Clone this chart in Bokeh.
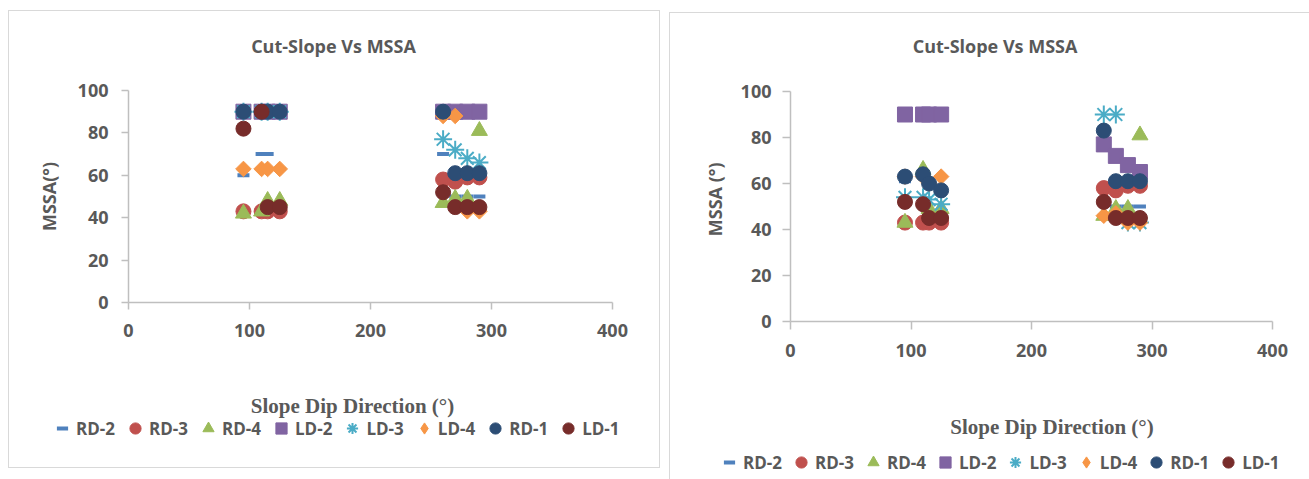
from math import pi
from bokeh.plotting import figure
from bokeh.layouts import row, column
from bokeh.models import Range1d, SingleIntervalTicker, Legend, LegendItem, ColumnDataSource, Label
from bokeh.embed import file_html
from bokeh.resources import INLINE

# ---------------- data ----------------
dip_direction = [95, 110, 115, 125, 260, 270, 280, 290]
series_names = ["RD-2", "RD-3", "RD-4", "LD-2", "LD-3", "LD-4", "RD-1", "LD-1"]

# left chart (MSSA, degrees)
left_rd2 = [60, 70, 70, 63, 70, 50, 50, 50]
left_rd3 = [43, 43, 43, 43, 58, 57, 59, 59]
left_rd4 = [42, 43, 48, 48, 47, 49, 49, 81]
left_ld2 = [90, 90, 90, 90, 90, 90, 90, 90]
left_ld3 = [90, 90, 90, 90, 77, 72, 68, 66]
left_ld4 = [63, 63, 63, 63, 88, 88, 43, 43]
left_rd1 = [90, 90, 90, 90, 90, 61, 61, 61]
left_ld1 = [82, 90, 45, 45, 52, 45, 45, 45]

# right chart (MSSA, degrees)
right_rd2 = [61, 64, 60, 57, 46, 50, 50, 50]
right_rd3 = [43, 43, 43, 43, 58, 57, 59, 59]
right_rd4 = [43, 66, 49, 49, 46, 49, 49, 81]
right_ld2 = [90, 90, 90, 90, 77, 72, 68, 65]
right_ld3 = [54, 54, 53, 51, 90, 90, 43, 43]
right_ld4 = [63, 63, 60, 63, 46, 47, 43, 43]
right_rd1 = [63, 64, 60, 57, 83, 61, 61, 61]
right_ld1 = [52, 51, 45, 45, 52, 45, 45, 45]

x_ticks_interval = 100
y_ticks_interval = 20
title_text = "Cut-Slope Vs MSSA"
x_label_text = "Slope Dip Direction (°)"
left_y_label = "MSSA(°)"
right_y_label = "MSSA (°)"

# ---------------- styles ----------------
styles = {
    "RD-2": dict(marker="dash", color="#4F81BD", size=12, angle=0, lw=4),
    "RD-3": dict(marker="circle", color="#C0504D", size=15, angle=0, lw=1),
    "RD-4": dict(marker="triangle", color="#9BBB59", size=16, angle=0, lw=1),
    "LD-2": dict(marker="square", color="#8064A2", size=15, angle=0, lw=1),
    "LD-3": dict(marker="asterisk", color="#4BACC6", size=18, angle=0, lw=2),
    "LD-4": dict(marker="square", color="#F79646", size=11, angle=pi / 4, lw=1, key_marker="diamond"),
    "RD-1": dict(marker="circle", color="#2C4D75", size=15, angle=0, lw=1),
    "LD-1": dict(marker="circle", color="#772C2A", size=15, angle=0, lw=1),
}

GRAY = "#595959"
AXIS = "#BFBFBF"
SANS = "Open Sans"
SERIF = "Liberation Serif"
LINE = "linear-gradient(#D9D9D9,#D9D9D9)"


def bg(*segments):
    return ", ".join([f"{LINE} {s} no-repeat" for s in segments] + ["#FFFFFF"])


def blank(width, height, background):
    p = figure(width=width, height=height, output_backend="svg", toolbar_location=None,
               x_range=Range1d(0, width), y_range=Range1d(0, height), title=None,
               x_axis_location=None, y_axis_location=None, min_border=0,
               styles={"background": background})
    p.outline_line_color = None
    p.grid.visible = False
    p.background_fill_color = None
    p.border_fill_color = None
    return p


def text(p, x, y, s, font, size, angle=0.0):
    p.add_layout(Label(x=x, y=y, text=s, text_font=font, text_font_style="bold",
                       text_font_size=size, text_color=GRAY, text_align="center",
                       text_baseline="middle", angle=angle))


def source(values):
    return ColumnDataSource(dict(x=dip_direction, **{n: v for n, v in zip(series_names, values)}))


def draw_series(p, src, key=False):
    rs = []
    for n in series_names:
        s = styles[n]
        marker = s.get("key_marker", s["marker"]) if key else s["marker"]
        angle = 0 if (key and "key_marker" in s) else s["angle"]
        rs.append(p.scatter("x", n, source=src, marker=marker, size=s["size"], angle=angle,
                            fill_color=s["color"], line_color=s["color"], line_width=s["lw"],
                            visible=not key))
    return rs


def main_fig(values, width, height, borders, background, tick_out, ylab_standoff, xlab_standoff):
    p = figure(width=width, height=height, output_backend="svg", toolbar_location=None,
               x_range=Range1d(0, 400), y_range=Range1d(0, 100), title=None,
               min_border_left=borders[0], min_border_right=borders[1],
               min_border_top=borders[2], min_border_bottom=borders[3],
               styles={"background": background})
    p.outline_line_color = None
    p.grid.visible = False
    p.background_fill_color = None
    p.border_fill_color = None
    p.xaxis.ticker = SingleIntervalTicker(interval=x_ticks_interval)
    p.yaxis.ticker = SingleIntervalTicker(interval=y_ticks_interval)
    for ax in (p.xaxis, p.yaxis):
        ax.axis_line_color = AXIS
        ax.axis_line_width = 1.5
        ax.major_tick_line_color = AXIS
        ax.major_tick_line_width = 1.5
        ax.major_tick_in = 0
        ax.major_tick_out = tick_out
        ax.minor_tick_line_color = None
        ax.major_label_text_font = SANS
        ax.major_label_text_font_style = "bold"
        ax.major_label_text_font_size = "18px"
        ax.major_label_text_color = GRAY
    p.yaxis.major_label_standoff = ylab_standoff
    p.xaxis.major_label_standoff = xlab_standoff
    draw_series(p, source(values))
    return p


def add_legend(p, values, loc, spacing):
    # legend keys: same series, hidden in this strip (only their legend glyphs show)
    keys = draw_series(p, source(values), key=True)
    items = [LegendItem(label=n, renderers=[r]) for n, r in zip(series_names, keys)]
    p.add_layout(Legend(items=items, orientation="horizontal", location=loc,
                        glyph_width=28, glyph_height=28, label_standoff=0, spacing=spacing,
                        padding=0, margin=0, border_line_alpha=0, background_fill_alpha=0,
                        inactive_fill_alpha=0,
                        label_text_font=SANS, label_text_font_style="bold",
                        label_text_font_size="17px", label_text_color=GRAY))


left_values = [left_rd2, left_rd3, left_rd4, left_ld2, left_ld3, left_ld4, left_rd1, left_ld1]
right_values = [right_rd2, right_rd3, right_rd4, right_ld2, right_ld3, right_ld4, right_rd1, right_ld1]

# ---------- left chart (667 x 477) ----------
h1 = blank(667, 70, bg("8px 10px / 652px 1px", "8px 10px / 1px 60px", "659px 10px / 1px 60px"))
text(h1, 333, 25, title_text, SANS, "18px")
y1 = blank(66, 284, bg("8px 0 / 1px 284px"))
text(y1, 48, 142, left_y_label, SANS, "18px", pi / 2)
m1 = main_fig(left_values, 601, 284, (62, 55, 20, 52), bg("593px 0 / 1px 284px"), 7, 13, 14)
f1 = blank(667, 123, bg("8px 0 / 1px 114px", "659px 0 / 1px 114px", "8px 113px / 652px 1px"))
text(f1, 352, 72, x_label_text, SERIF, "21px")
add_legend(f1, left_values, (48, 35), 6)

# ---------- right chart (642 x 479) ----------
h2 = blank(642, 70, bg("2px 12px / 640px 1px", "2px 12px / 1px 58px"))
text(h2, 327.6, 24.3, title_text, SANS, "18px")
y2 = blank(63, 303, bg("2px 0 / 1px 303px"))
text(y2, 47.5, 161, right_y_label, SANS, "18px", pi / 2)
m2 = main_fig(right_values, 579, 303, (60, 37, 21, 52), bg(), 8, 11, 14)
f2 = blank(642, 106, bg("2px 0 / 1px 106px"))
text(f2, 384.5, 52.3, x_label_text, SERIF, "21px")
add_legend(f2, right_values, (48, 3), 5)

layout = row(column(h1, row(y1, m1), f1), column(h2, row(y2, m2), f2))
open("out.html", "w").write(file_html(layout, INLINE))
